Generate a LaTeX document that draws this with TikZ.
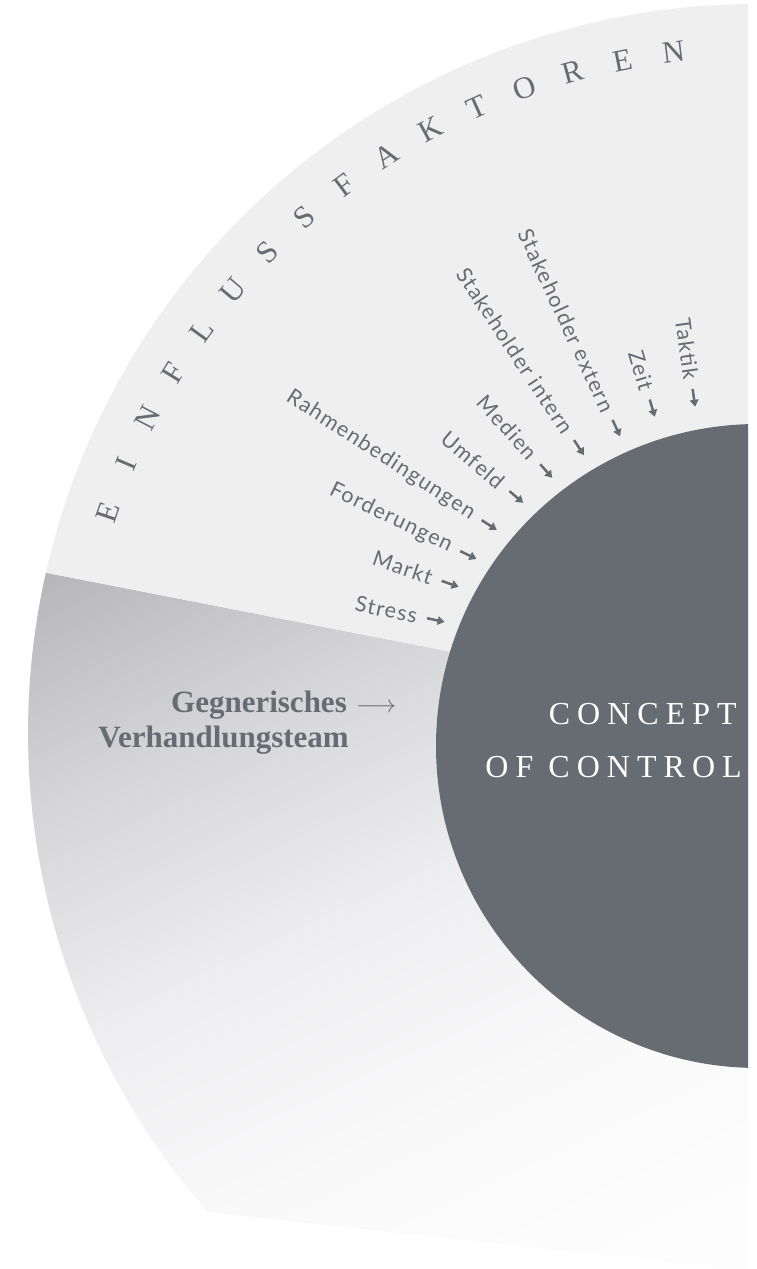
\documentclass[tikz,border=0pt]{standalone}
\usepackage{fontspec}
\setmainfont{Liberation Serif}
\newfontfamily\labfont[LetterSpace=6]{Lato}
\newfontfamily\capfont[LetterSpace=22]{Liberation Serif}
\usetikzlibrary{calc,arrows.meta}
\definecolor{txt}{HTML}{676B72}
\definecolor{darkc}{HTML}{676B72}
\definecolor{lightc}{HTML}{F0EFF0}
\definecolor{s1}{HTML}{FEFDFE}
\definecolor{s2}{HTML}{FAF9FA}
\definecolor{s3}{HTML}{EEEDEF}
\definecolor{s4}{HTML}{D5D5D7}
\definecolor{s5}{HTML}{B4B4B8}
\definecolor{s6}{HTML}{A8A8AD}
\pgfdeclareverticalshading{fanshade}{100bp}{color(0bp)=(s1); color(21bp)=(s1); color(36bp)=(s2); color(51bp)=(s3); color(67bp)=(s4); color(83bp)=(s5); color(100bp)=(s6)}
\begin{document}
\begin{tikzpicture}[x=1pt,y=1pt,
  lab/.style={font=\labfont\fontsize{21.5}{21.5}\selectfont, text=txt, inner sep=0pt, anchor=east},
  arr/.style={draw=txt, line width=2.5pt, -{Triangle[length=7pt,width=8.5pt]}},
  fanletter/.style={font=\fontsize{31}{31}\selectfont, text=txt, inner sep=0pt},
  teamtext/.style={font=\bfseries\fontsize{31}{31}\selectfont, text=txt, inner sep=0pt},
  cctext/.style={font=\capfont\fontsize{32}{32}\selectfont, text=white, inner sep=0pt, anchor=base east}
]
\useasboundingbox (0,0) rectangle (757,1269);
\coordinate (F) at (757,536);
\coordinate (C) at (758,523);
\coordinate (P) at (734,586);
\begin{scope}
  \clip (0,-5) rectangle (748,1275);
  % gradient sector
  \shade[shading=fanshade, shading angle=25]
    ($(F)+(167.3:729)$) arc[start angle=167.3, end angle=221.1, radius=729]
    -- (760,-3) -- (760,557) -- cycle;
  % light sector
  \fill[lightc] ($(F)+(90:729)$) arc[start angle=90, end angle=167.3, radius=729]
    -- (760,557) -- cycle;
  % central circle
  \fill[darkc] (C) circle[radius=322];
\end{scope}
% arc lettering
\foreach \l [count=\k from 0, evaluate=\k as \ang using 161.2-4.28*\k] in {E,I,N,F,L,U,S,S,F,A,K,T,O,R,E,N}
  \node[fanletter, rotate=\ang-90] (fl\k) at ($(F)+(\ang:686)$) {\l};
% labels with arrows
\foreach \phi/\rad/\txt [count=\i] in {158.4/337/Stress, 152.0/339/Markt, 146.4/338/Forderungen,
   140.4/339/Rahmenbedingungen, 134.0/338/Umfeld, 127.5/338/Medien,
   120.9/339/Stakeholder intern, 114.0/339/Stakeholder extern, 107.4/345/Zeit, 100.5/345/Taktik}{
  \coordinate (t\i) at ($(C)+(\phi:\rad)$);
  \coordinate (a\i) at ($(t\i)!-18pt!(P)$);
  \path let \p1=($(P)-(t\i)$), \n1={atan2(\y1,\x1)} in
    node[lab, rotate=\n1] (n\i) at ($(t\i)!-28pt!(P)$) {\txt};
  \draw[arr] (a\i) -- (t\i);
}
% opposing team
\node[teamtext, anchor=base east] (g1) at (347,556) {Gegnerisches};
\node[teamtext, anchor=base east] (g2) at (349,521) {Verhandlungsteam};
\node[text=txt, inner sep=0pt, anchor=base west, font=\fontsize{24}{24}\selectfont] (g3) at (356,556) {$\longrightarrow$};
% centre text
\node[cctext] (c1) at (737,544) {CONCEPT};
\node[cctext] (c2) at (742,491) {OF CONTROL};
\end{tikzpicture}
\end{document}
